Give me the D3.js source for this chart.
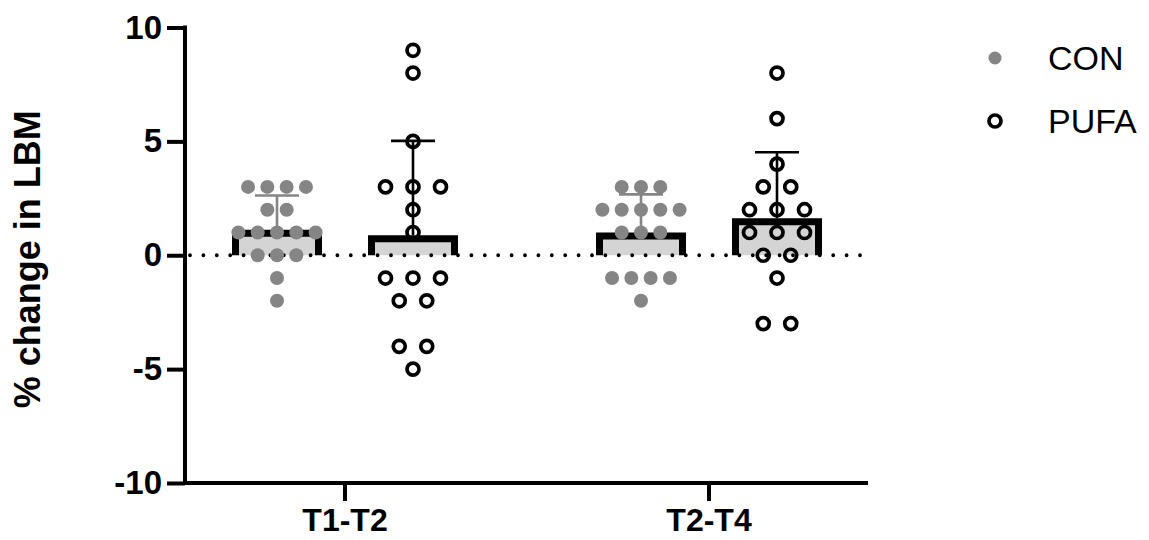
<!DOCTYPE html>
<html>
<head>
<meta charset="utf-8">
<script src="https://cdn.jsdelivr.net/npm/d3@7"></script>
<style>
  html, body { margin: 0; padding: 0; background: #fff; }
  svg { display: block; }
</style>
</head>
<body>
<svg id="chart" width="1149" height="540"></svg>
<script>
// ---- data ----
const categories = ["T1-T2", "T2-T4"];
const seriesNames = ["CON", "PUFA"];
const yTicks = [-10, -5, 0, 5, 10];
const yTickLabels = ["-10", "-5", "0", "5", "10"];

const conT1T2  = [3,3,3,3, 2,2, 1,1,1,1,1, 0,0,0, -1, -2];
const pufaT1T2 = [9, 8, 5, 3,3,3, 2, 1, -1,-1,-1, -2,-2, -4,-4, -5];
const conT2T4  = [3,3,3, 2,2,2,2,2, 1,1,1, -1,-1,-1,-1, -2];
const pufaT2T4 = [8, 6, 4, 3,3, 2,2,2, 1,1,1, 0,0, -1, -3,-3];

const groups = [
  { cat: "T1-T2", series: "CON",  values: conT1T2 },
  { cat: "T1-T2", series: "PUFA", values: pufaT1T2 },
  { cat: "T2-T4", series: "CON",  values: conT2T4 },
  { cat: "T2-T4", series: "PUFA", values: pufaT2T4 }
];

// ---- layout ----
const svg = d3.select("#chart");
const axisX0 = 185, axisX1 = 868;
const yScale = d3.scaleLinear().domain([-10, 10]).range([483, 27.5]);
const xScale = d3.scaleBand().domain(categories).range([163, 891]);
const sub = d3.scalePoint().domain(seriesNames).range([-68, 68]);
const spacing = { CON: 19.3, PUFA: 27.5 };
const conGray = "#858585";
const barGray = "#d4d4d4";
const barW = 90, sw = 7;
const font = "Liberation Sans, Arial, sans-serif";

const cx = g => xScale(g.cat) + xScale.bandwidth() / 2 + sub(g.series);

// bars
groups.forEach(g => {
  const m = d3.mean(g.values);
  const c = cx(g);
  const yTop = yScale(m), y0 = yScale(0);
  svg.append("rect")
    .attr("x", c - barW / 2 + sw / 2).attr("y", yTop + sw / 2)
    .attr("width", barW - sw).attr("height", Math.max(0, y0 - yTop - sw / 2))
    .attr("fill", barGray);
  svg.append("path")
    .attr("d", `M${c - barW / 2 + sw / 2},${y0} V${yTop + sw / 2} H${c + barW / 2 - sw / 2} V${y0}`)
    .attr("fill", "none").attr("stroke", "#000").attr("stroke-width", sw)
    .attr("stroke-linejoin", "miter");
});

// zero dotted line
svg.append("line")
  .attr("x1", axisX0 + 5).attr("x2", axisX1)
  .attr("y1", yScale(0)).attr("y2", yScale(0))
  .attr("stroke", "#000").attr("stroke-width", 3.8)
  .attr("stroke-linecap", "round")
  .attr("stroke-dasharray", "0,13.4");

// points
groups.forEach(g => {
  const c = cx(g);
  const counts = d3.rollup(g.values, v => v.length, d => d);
  const seen = new Map();
  const pts = g.values.map(v => {
    const n = counts.get(v);
    const i = seen.get(v) || 0; seen.set(v, i + 1);
    return { v, x: c + (i - (n - 1) / 2) * spacing[g.series] };
  });
  const sel = svg.append("g").selectAll("circle").data(pts).join("circle")
    .attr("cx", d => d.x).attr("cy", d => yScale(d.v));
  if (g.series === "CON") {
    sel.attr("r", 7).attr("fill", conGray);
  } else {
    sel.attr("r", 6).attr("fill", "none").attr("stroke", "#000").attr("stroke-width", 3.7);
  }
});

// error bars (mean + SD, upward only)
groups.forEach(g => {
  const m = d3.mean(g.values), sd = d3.deviation(g.values);
  const c = cx(g);
  const col = g.series === "CON" ? conGray : "#000";
  const eg = svg.append("g").attr("stroke", col).attr("stroke-width", 2.6);
  eg.append("line").attr("x1", c).attr("x2", c).attr("y1", yScale(m)).attr("y2", yScale(m + sd));
  eg.append("line").attr("x1", c - 22).attr("x2", c + 22).attr("y1", yScale(m + sd)).attr("y2", yScale(m + sd));
});

// y axis
const yAxis = svg.append("g").attr("transform", `translate(${axisX0},0)`)
  .call(d3.axisLeft(yScale).tickValues(yTicks).tickSize(18).tickPadding(5)
    .tickFormat((d, i) => yTickLabels[i]));
yAxis.select(".domain").remove();
yAxis.selectAll(".tick line").attr("stroke", "#000").attr("stroke-width", 4);
yAxis.selectAll(".tick text")
  .attr("font-family", font)
  .attr("font-weight", "bold").attr("font-size", 33).attr("fill", "#000");
svg.append("line").attr("x1", axisX0).attr("x2", axisX0)
  .attr("y1", yScale(10) - 2).attr("y2", yScale(-10) + 2)
  .attr("stroke", "#000").attr("stroke-width", 4);

// x axis
const xAxis = svg.append("g").attr("transform", `translate(0,${yScale(-10)})`)
  .call(d3.axisBottom(xScale).tickSize(18).tickPadding(7));
xAxis.select(".domain").remove();
xAxis.selectAll(".tick line").attr("stroke", "#000").attr("stroke-width", 4);
xAxis.selectAll(".tick text")
  .attr("font-family", font)
  .attr("font-weight", "bold").attr("font-size", 32).attr("fill", "#000");
svg.append("line").attr("x1", axisX0).attr("x2", axisX1)
  .attr("y1", yScale(-10)).attr("y2", yScale(-10))
  .attr("stroke", "#000").attr("stroke-width", 4);

// y title
svg.append("text")
  .attr("transform", `translate(40,${(yScale(10) + yScale(-10)) / 2 + 4}) rotate(-90)`)
  .attr("text-anchor", "middle")
  .attr("font-family", font)
  .attr("font-weight", "bold").attr("font-size", 36).attr("fill", "#000")
  .text("% change in LBM");

// legend
const legend = svg.append("g");
seriesNames.forEach((s, i) => {
  const y = 58 + i * 63;
  if (s === "CON") {
    legend.append("circle").attr("cx", 995).attr("cy", y).attr("r", 6.5).attr("fill", conGray);
  } else {
    legend.append("circle").attr("cx", 995).attr("cy", y).attr("r", 6).attr("fill", "none")
      .attr("stroke", "#000").attr("stroke-width", 3.7);
  }
  legend.append("text").attr("x", 1048).attr("y", y).attr("dy", "0.36em")
    .attr("font-family", font)
    .attr("font-size", 34).attr("fill", "#000").text(s);
});
</script>
</body>
</html>
